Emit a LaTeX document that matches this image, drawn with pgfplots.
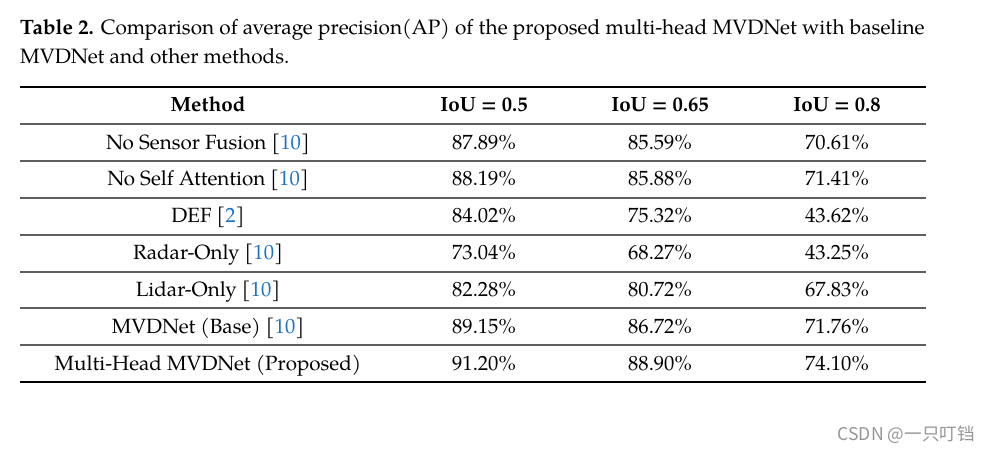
\documentclass[border=0pt]{standalone}
\usepackage{fontspec}
\setmainfont{texgyrepagella}[Extension=.otf,UprightFont=*-regular,BoldFont=*-bold,ItalicFont=*-italic,BoldItalicFont=*-bolditalic]
\newfontfamily\cjk{Noto Sans CJK SC}
\usepackage{pgfplots}
\usepackage{pgfplotstable}
\pgfplotsset{compat=1.18}
\definecolor{citeblue}{RGB}{30,115,190}
\definecolor{rulegray}{RGB}{95,95,95}
\definecolor{wmgray}{RGB}{150,150,150}
\newcommand{\cit}[1]{[\textcolor{citeblue}{#1}]}
\newcommand{\tabfont}{\fontsize{20.6bp}{24bp}\selectfont}
\newcommand{\capfont}{\fontsize{20.8bp}{24bp}\selectfont}

\pgfplotstableread{
row m50 m65 m80
1 87.89 85.59 70.61
2 88.19 85.88 71.41
3 84.02 75.32 43.62
4 73.04 68.27 43.25
5 82.28 80.72 67.83
6 89.15 86.72 71.76
7 91.20 88.90 74.10
}\aptable

\begin{document}
\begin{tikzpicture}
\begin{axis}[
  scale only axis, width=989bp, height=452bp,
  xmin=0, xmax=989, ymin=0, ymax=452, y dir=reverse,
  hide axis, clip=false,
  /pgf/number format/assume math mode=true,
  nodes near coords={\pgfmathprintnumber[fixed,fixed zerofill,precision=2,assume math mode=true]{\pgfplotspointmeta}\%},
  every node near coord/.append style={anchor=base, font=\tabfont, text=black, inner sep=0pt, draw=none},
]
\fill[white] (rel axis cs:0,0) rectangle (rel axis cs:1,1);

% caption
\node[anchor=base west, inner sep=0pt, font=\capfont] at (20,35) {\textbf{Table 2.} Comparison of average precision(AP) of the proposed multi-head MVDNet with baseline};
\node[anchor=base west, inner sep=0pt, font=\capfont] at (20,64) {MVDNet and other methods.};

% rules
\draw[line width=1.6bp, black] (20,87) -- (926,87);
\pgfplotsinvokeforeach{124,161,198,235,272,308,345}{
  \draw[line width=1.6bp, rulegray] (20,#1) -- (926,#1);
}
\draw[line width=1.6bp, black] (20,382) -- (926,382);

% header
\node[anchor=base, inner sep=0pt, font=\tabfont\bfseries] at (208,111) {Method};
\node[anchor=base, inner sep=0pt, font=\tabfont\bfseries] at (484,111) {IoU = 0.5};
\node[anchor=base, inner sep=0pt, font=\tabfont\bfseries] at (660,111) {IoU = 0.65};
\node[anchor=base, inner sep=0pt, font=\tabfont\bfseries] at (837,111) {IoU = 0.8};

% method names
\node[anchor=base, inner sep=0pt, font=\tabfont] at (208,149) {No Sensor Fusion \cit{10}};
\node[anchor=base, inner sep=0pt, font=\tabfont] at (208,185.83) {No Self Attention \cit{10}};
\node[anchor=base, inner sep=0pt, font=\tabfont] at (208,222.67) {DEF \cit{2}};
\node[anchor=base, inner sep=0pt, font=\tabfont] at (208,259.5) {Radar-Only \cit{10}};
\node[anchor=base, inner sep=0pt, font=\tabfont] at (208,296.33) {Lidar-Only \cit{10}};
\node[anchor=base, inner sep=0pt, font=\tabfont] at (208,333.17) {MVDNet (Base) \cit{10}};
\node[anchor=base, inner sep=0pt, font=\tabfont] at (208,370) {Multi-Head MVDNet (Proposed)};

% values
\addplot[draw=none, mark=none, point meta=explicit] table[x expr=484, y expr={149+(\thisrow{row}-1)*36.833}, meta=m50] {\aptable};
\addplot[draw=none, mark=none, point meta=explicit] table[x expr=660, y expr={149+(\thisrow{row}-1)*36.833}, meta=m65] {\aptable};
\addplot[draw=none, mark=none, point meta=explicit] table[x expr=837, y expr={149+(\thisrow{row}-1)*36.833}, meta=m80] {\aptable};

% watermark
\node[anchor=base east, inner sep=0pt, text=wmgray, font=\fontsize{17.6bp}{20bp}\selectfont\cjk] at (975,440) {CSDN @一只叮铛};
\end{axis}
\end{tikzpicture}
\end{document}
